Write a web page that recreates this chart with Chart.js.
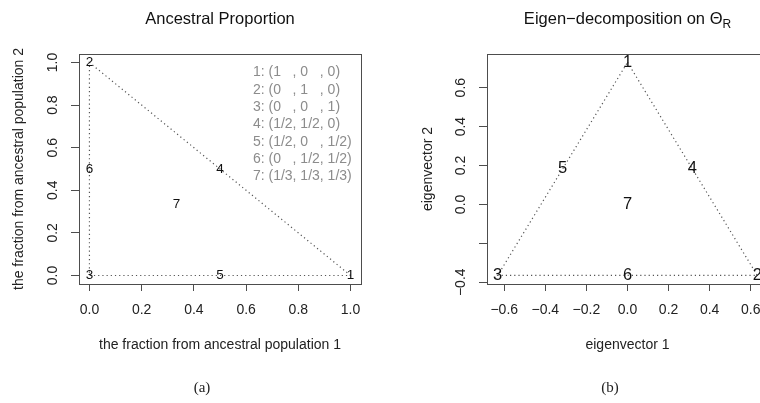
<!doctype html>
<html lang="en">

<head>
    <title>Ancestral Proportion / Eigen-decomposition</title>
    <meta charset="utf-8">
    <style>
        html, body { margin: 0; padding: 0; background: #fff; overflow: hidden; }
        #caixa1 { position: absolute; left: 0; top: 0; width: 380px; height: 403px; }
        #caixa2 { position: absolute; left: 380px; top: 0; width: 400px; height: 403px; }
        .sub { position: absolute; top: 380px; width: 60px; text-align: center;
               font: 15px/15px "Liberation Serif", "DejaVu Serif", serif; color: #222; }
    </style>
</head>

<body>

    <div id="caixa1"><canvas id="grafico1"></canvas></div>
    <div id="caixa2"><canvas id="grafico2"></canvas></div>
    <div class="sub" style="left:172px">(a)</div>
    <div class="sub" style="left:580px">(b)</div>

    <script src="https://cdn.jsdelivr.net/npm/chart.js"></script>
    <script>
        // point names
        const rotulos = ["1", "2", "3", "4", "5", "6", "7"];

        // (a) ancestral proportion
        const propX = [1, 0, 0, 0.5, 0.5, 0, 1 / 3];
        const propY = [0, 1, 0, 0.5, 0, 0.5, 1 / 3];
        const ticksProp = [0, 0.2, 0.4, 0.6, 0.8, 1.0];
        const textoTicksProp = ["0.0", "0.2", "0.4", "0.6", "0.8", "1.0"];
        const composicao = [
            "1: (1   , 0   , 0)",
            "2: (0   , 1   , 0)",
            "3: (0   , 0   , 1)",
            "4: (1/2, 1/2, 0)",
            "5: (1/2, 0   , 1/2)",
            "6: (0   , 1/2, 1/2)",
            "7: (1/3, 1/3, 1/3)"
        ];

        // (b) eigen-decomposition
        const eigX = [0, 0.632, -0.632, 0.316, -0.316, 0, 0];
        const eigY = [0.730, -0.365, -0.365, 0.1825, 0.1825, -0.365, 0];
        const ticksEigX = [-0.6, -0.4, -0.2, 0, 0.2, 0.4, 0.6];
        const textoTicksEigX = ["\u22120.6", "\u22120.4", "\u22120.2", "0.0", "0.2", "0.4", "0.6"];
        const ticksEigY = [-0.4, -0.2, 0, 0.2, 0.4, 0.6];
        const textoTicksEigY = ["\u22120.4", "", "0.0", "0.2", "0.4", "0.6"];

        // triangle outline 1 -> 2 -> 3 -> 1
        const contorno = [0, 1, 2, 0];

        Chart.defaults.font.family = "'Liberation Sans', Arial, sans-serif";
        Chart.defaults.color = "#222";

        const caixaPlugin = {
            id: "caixa",
            afterDraw(chart) {
                const a = chart.chartArea, ctx = chart.ctx;
                ctx.save();
                ctx.strokeStyle = "#4d4d4d";
                ctx.lineWidth = 1;
                ctx.strokeRect(Math.round(a.left) + 0.5, Math.round(a.top) + 0.5,
                    Math.round(a.right - a.left), Math.round(a.bottom - a.top));
                ctx.restore();
            }
        };

        const rotulosPlugin = {
            id: "rotulos",
            afterDatasetsDraw(chart, args, opts) {
                const meta = chart.getDatasetMeta(1);
                const ctx = chart.ctx;
                ctx.save();
                ctx.font = opts.tamanho + "px 'Liberation Sans', Arial, sans-serif";
                ctx.fillStyle = "#111";
                ctx.textAlign = "center";
                ctx.textBaseline = "middle";
                meta.data.forEach((p, i) => ctx.fillText(rotulos[i], p.x, p.y));

                // composition list
                if (opts.lista) {
                    const x0 = chart.scales.x.getPixelForValue(opts.lista.x);
                    const y0 = chart.scales.y.getPixelForValue(opts.lista.y);
                    ctx.font = "14px 'Liberation Sans', Arial, sans-serif";
                    ctx.fillStyle = "#8c8c8c";
                    ctx.textAlign = "left";
                    opts.lista.linhas.forEach((t, i) => ctx.fillText(t, x0, y0 + i * 17.3));
                }

                // title
                const a = chart.chartArea;
                const cx = (a.left + a.right) / 2;
                ctx.font = "16.5px 'Liberation Sans', Arial, sans-serif";
                ctx.fillStyle = "#111";
                ctx.textBaseline = "alphabetic";
                const w1 = ctx.measureText(opts.titulo).width;
                let w2 = 0;
                if (opts.indice) {
                    ctx.font = "12px 'Liberation Sans', Arial, sans-serif";
                    w2 = ctx.measureText(opts.indice).width;
                }
                const xi = cx - (w1 + w2) / 2;
                ctx.font = "16.5px 'Liberation Sans', Arial, sans-serif";
                ctx.textAlign = "left";
                ctx.fillText(opts.titulo, xi, 24);
                if (opts.indice) {
                    ctx.font = "12px 'Liberation Sans', Arial, sans-serif";
                    ctx.fillText(opts.indice, xi + w1, 28);
                }
                ctx.restore();
            }
        };

        function eixo(min, max, valores, textos, titulo, vertical) {
            return {
                type: "linear",
                min: min,
                max: max,
                border: { display: false },
                grid: {
                    drawOnChartArea: false,
                    drawTicks: true,
                    tickLength: vertical ? 8 : 7,
                    color: "#4d4d4d"
                },
                afterBuildTicks: s => { s.ticks = valores.map(v => ({ value: v })); },
                ticks: {
                    autoSkip: false,
                    font: { size: 14 },
                    color: "#222",
                    padding: vertical ? 0 : 11,
                    minRotation: vertical ? 90 : 0,
                    maxRotation: vertical ? 90 : 0,
                    crossAlign: vertical ? "center" : "near",
                    callback: (v, i) => textos[i]
                },
                title: {
                    display: true,
                    text: titulo,
                    font: { size: 14 },
                    color: "#222",
                    padding: { top: 0, bottom: 0 }
                }
            };
        }

        function pontos(xs, ys) {
            return xs.map((x, i) => ({ x: x, y: ys[i] }));
        }

        // (a)
        const escX1 = eixo(-0.04, 1.04, ticksProp, textoTicksProp, "the fraction from ancestral population 1", false);
        escX1.title.padding = { top: 0, bottom: 10 };
        escX1.afterFit = s => { s.height = 80; };
        const escY1 = eixo(-0.04, 1.04, ticksProp, textoTicksProp, "the fraction from ancestral population 2", true);
        escY1.ticks.padding = 8;
        escY1.title.padding = { top: 11, bottom: 0 };
        escY1.afterFit = s => { s.width = 79; };

        new Chart(document.querySelector("#grafico1"), {
            type: "scatter",
            data: {
                datasets: [
                    {
                        type: "line",
                        data: contorno.map(i => ({ x: propX[i], y: propY[i] })),
                        borderColor: "#555",
                        borderWidth: 1.2,
                        borderDash: [1.2, 3],
                        pointRadius: 0,
                        fill: false,
                        tension: 0
                    },
                    {
                        data: pontos(propX, propY),
                        pointRadius: 0
                    }
                ]
            },
            options: {
                responsive: true,
                maintainAspectRatio: false,
                animation: false,
                layout: { padding: { top: 54, left: 0, right: 19, bottom: 39 } },
                scales: { x: escX1, y: escY1 },
                plugins: {
                    legend: { display: false },
                    tooltip: { enabled: false },
                    rotulos: {
                        tamanho: 13.5,
                        titulo: "Ancestral Proportion",
                        lista: { x: 0.626, y: 0.953, linhas: composicao }
                    }
                }
            },
            plugins: [caixaPlugin, rotulosPlugin]
        });

        // (b)
        const escX2 = eixo(-0.684, 0.684, ticksEigX, textoTicksEigX, "eigenvector 1", false);
        escX2.title.padding = { top: 0, bottom: 10 };
        escX2.afterFit = s => { s.height = 80; };
        const escY2 = eixo(-0.409, 0.773, ticksEigY, textoTicksEigY, "eigenvector 2", true);
        escY2.ticks.padding = 4;
        escY2.title.padding = { top: 40, bottom: 0 };
        escY2.afterFit = s => { s.width = 107; };

        new Chart(document.querySelector("#grafico2"), {
            type: "scatter",
            data: {
                datasets: [
                    {
                        type: "line",
                        data: contorno.map(i => ({ x: eigX[i], y: eigY[i] })),
                        borderColor: "#555",
                        borderWidth: 1.2,
                        borderDash: [1.2, 3],
                        pointRadius: 0,
                        fill: false,
                        tension: 0
                    },
                    {
                        data: pontos(eigX, eigY),
                        pointRadius: 0
                    }
                ]
            },
            options: {
                responsive: true,
                maintainAspectRatio: false,
                animation: false,
                layout: { padding: { top: 54, left: 0, right: 12, bottom: 39 } },
                scales: { x: escX2, y: escY2 },
                plugins: {
                    legend: { display: false },
                    tooltip: { enabled: false },
                    rotulos: {
                        tamanho: 16.5,
                        titulo: "Eigen\u2212decomposition on \u0398",
                        indice: "R"
                    }
                }
            },
            plugins: [caixaPlugin, rotulosPlugin]
        });
    </script>
</body>
</html>
